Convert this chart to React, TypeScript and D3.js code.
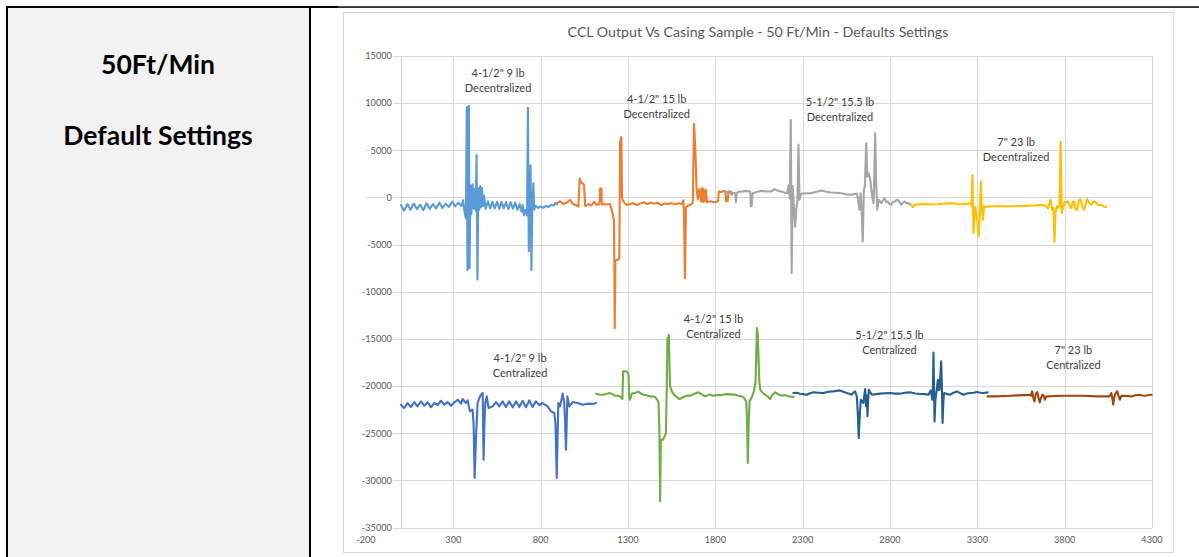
import React, { useEffect, useRef } from 'react';
import * as d3 from 'd3';

type Pt = [number, number];

// decentralized runs (upper group)
const dec9lb: Pt[] = [[0,-800],[18,-1400],[37,-700],[55,-1300],[74,-650],[92,-1250],[110,-750],[128,-1350],[147,-600],[165,-1200],[183,-700],[201,-1150],[220,-550],[238,-1100],[256,-650],[274,-1000],[293,-450],[311,-950],[329,-550],[347,-900],[356,-300],[365,-1600],[372,-2200],[377,9600],[381,-7700],[385,-1000],[389,9700],[393,-7500],[398,1300],[403,-1800],[410,1400],[416,-1200],[422,900],[428,-1400],[433,4500],[438,-8700],[443,1000],[449,-1300],[454,1200],[459,-1000],[464,1000],[470,-900],[476,200],[485,-1200],[498,-400],[511,-1150],[524,-450],[537,-1150],[550,-450],[563,-1200],[576,-450],[589,-1150],[602,-500],[615,-1250],[628,-500],[641,-1200],[654,-550],[667,-1300],[680,-700],[690,-1500],[697,-800],[704,-1900],[712,-1300],[722,-1900],[727,9500],[732,-5700],[737,-900],[742,3400],[747,-7700],[752,-1200],[758,1500],[763,-1300],[770,-900],[785,-1100],[800,-950],[815,-1100],[830,-900],[845,-1000],[860,-800],[875,-850],[885,-600],[893,-700]];

const dec15lb: Pt[] = [[892,-600],[911,-400],[930,-700],[949,-550],[968,-250],[985,-700],[1000,-800],[1016,-950],[1023,2000],[1030,1600],[1040,1500],[1048,1350],[1055,-900],[1075,-700],[1090,-850],[1105,-450],[1120,-800],[1135,-700],[1138,-300],[1140,950],[1148,950],[1150,-750],[1165,-700],[1180,-750],[1197,-700],[1203,-1100],[1212,-1700],[1220,-2500],[1224,-13850],[1228,-6700],[1240,-6600],[1250,-6500],[1255,5900],[1262,6400],[1266,-100],[1275,-450],[1292,-800],[1310,-700],[1330,-600],[1350,-800],[1370,-650],[1390,-500],[1410,-700],[1430,-550],[1450,-650],[1470,-550],[1490,-800],[1510,-650],[1530,-700],[1550,-600],[1570,-750],[1590,-600],[1610,-700],[1617,-300],[1621,-2000],[1626,-8550],[1632,-1000],[1645,-850],[1660,-750],[1671,-550],[1678,7800],[1686,5000],[1692,1100],[1700,-200],[1708,900],[1713,600],[1718,-400],[1724,1000],[1728,-500],[1734,900],[1740,-400],[1746,800],[1752,-500],[1760,-450],[1775,-400],[1790,-500],[1805,-450],[1815,-400],[1820,650],[1830,550],[1845,700],[1857,650],[1862,-400],[1870,-400],[1876,650],[1885,600],[1895,300]];

const dec155lb: Pt[] = [[1856,500],[1870,600],[1885,630],[1900,500],[1914,450],[1918,-500],[1922,450],[1933,630],[1950,600],[1971,700],[1990,650],[2000,630],[2003,-950],[2008,-900],[2014,450],[2040,600],[2062,700],[2090,650],[2119,630],[2138,880],[2160,700],[2176,630],[2200,500],[2211,450],[2219,1300],[2226,-100],[2232,8200],[2237,-8000],[2243,1200],[2250,-1000],[2257,-3100],[2263,-1300],[2270,-300],[2276,5600],[2282,-250],[2290,400],[2320,450],[2349,450],[2380,600],[2406,730],[2435,600],[2463,520],[2490,500],[2520,450],[2550,350],[2578,280],[2600,400],[2610,380],[2616,-80],[2625,-1300],[2632,450],[2638,-1500],[2644,-4670],[2650,800],[2656,1200],[2664,5750],[2670,2200],[2678,2570],[2686,2000],[2692,980],[2700,-100],[2706,-600],[2711,3000],[2715,6800],[2720,2000],[2727,-1300],[2734,-250],[2742,-400],[2750,-600],[2760,-300],[2769,-80],[2778,-500],[2788,-430],[2798,-700],[2807,-780],[2816,-500],[2826,-430],[2836,-300],[2845,-250],[2855,-500],[2864,-780],[2874,-550],[2884,-430],[2893,-600],[2903,-600],[2912,-700],[2922,-780]];

const dec23lb: Pt[] = [[2922,-780],[2931,-1030],[2941,-800],[2970,-700],[2998,-680],[3030,-750],[3075,-710],[3110,-650],[3151,-600],[3190,-700],[3228,-710],[3250,-650],[3260,-600],[3266,-900],[3272,2390],[3278,-3785],[3283,-2000],[3288,-1000],[3295,-2000],[3302,-2700],[3308,-4140],[3314,-2000],[3320,1690],[3326,-1000],[3332,-2370],[3338,-900],[3344,-1030],[3360,-960],[3380,-960],[3420,-900],[3476,-960],[3520,-900],[3571,-890],[3620,-850],[3667,-780],[3690,-900],[3705,-1140],[3712,-700],[3720,-230],[3728,-1300],[3736,-1100],[3742,-4680],[3748,-1500],[3756,-900],[3764,-1100],[3770,-900],[3777,5900],[3783,-1670],[3790,-1100],[3800,-500],[3810,-450],[3819,-430],[3828,-900],[3838,-1140],[3846,-450],[3853,-430],[3862,-1200],[3872,-1310],[3882,-300],[3891,-180],[3900,-900],[3910,-1310],[3920,-700],[3929,-180],[3940,-600],[3952,-780],[3965,-400],[3975,-430],[3985,-650],[3994,-780],[4005,-800],[4013,-780],[4025,-950],[4038,-1030]];

// centralized runs (lower group)
const cen9lb: Pt[] = [[0,-21970],[19,-22320],[38,-21790],[57,-22220],[76,-21690],[95,-22150],[115,-21620],[134,-22080],[153,-21720],[172,-22220],[191,-21790],[210,-22000],[229,-21550],[248,-21970],[267,-21690],[287,-22080],[306,-21720],[325,-21440],[344,-21860],[353,-21370],[372,-21790],[382,-21510],[395,-22680],[410,-22500],[416,-24000],[422,-29740],[430,-25330],[439,-21790],[449,-21260],[458,-20910],[468,-20730],[473,-27800],[478,-24000],[483,-21790],[491,-21090],[502,-22320],[525,-22150],[544,-21690],[563,-22150],[582,-21620],[601,-22220],[620,-21620],[640,-22250],[659,-21620],[678,-22220],[697,-21550],[716,-22250],[735,-21510],[754,-22220],[773,-21620],[792,-22000],[811,-21790],[840,-22150],[859,-22680],[878,-22850],[885,-24000],[892,-29740],[901,-21790],[911,-22150],[926,-20800],[935,-21790],[940,-24000],[945,-26740],[953,-21090],[964,-22150],[983,-21690],[1012,-21790],[1040,-21970],[1069,-21860],[1098,-21900],[1117,-21790]];

const cen15lb: Pt[] = [[1117,-20800],[1140,-20900],[1159,-20910],[1180,-20800],[1197,-20730],[1215,-20900],[1226,-21020],[1240,-21000],[1255,-21090],[1268,-21370],[1272,-18440],[1285,-18400],[1297,-18550],[1303,-18800],[1307,-21260],[1312,-21440],[1322,-20800],[1340,-20700],[1360,-20590],[1375,-20800],[1389,-20910],[1410,-21000],[1427,-21090],[1445,-21100],[1456,-21160],[1470,-21500],[1475,-21790],[1480,-25000],[1484,-32210],[1488,-25700],[1500,-25680],[1510,-25300],[1517,-24970],[1522,-20000],[1526,-14900],[1530,-15200],[1534,-14550],[1538,-18000],[1541,-20030],[1551,-20560],[1563,-20900],[1575,-21090],[1595,-21370],[1618,-21160],[1640,-21000],[1656,-21020],[1680,-20800],[1703,-20660],[1720,-20850],[1742,-21090],[1765,-20900],[1789,-21020],[1812,-20950],[1837,-20950],[1860,-20850],[1885,-20880],[1910,-20900],[1933,-21020],[1961,-21160],[1977,-21620],[1982,-24000],[1986,-28150],[1991,-24000],[1996,-21620],[2009,-21160],[2019,-20660],[2030,-19670],[2034,-17000],[2038,-13850],[2043,-14500],[2047,-16850],[2052,-19500],[2057,-20380],[2070,-20700],[2085,-20910],[2100,-21100],[2114,-21370],[2128,-20900],[2143,-20660],[2162,-20900],[2181,-21020],[2200,-20950],[2219,-21090],[2235,-21100],[2248,-21160]];

const cen155lb: Pt[] = [[2247,-20730],[2266,-20700],[2285,-20800],[2304,-20850],[2323,-20910],[2342,-20750],[2361,-20660],[2390,-20700],[2419,-20730],[2447,-20600],[2476,-20560],[2495,-20500],[2514,-20450],[2533,-20600],[2552,-20730],[2567,-20800],[2581,-20910],[2590,-20700],[2600,-20560],[2610,-21090],[2616,-23000],[2621,-25500],[2627,-23000],[2633,-21440],[2640,-21600],[2648,-21790],[2654,-20800],[2658,-20310],[2663,-22150],[2667,-21000],[2671,-23200],[2675,-21500],[2679,-20380],[2688,-20700],[2696,-20910],[2720,-20850],[2743,-20800],[2770,-20750],[2801,-20730],[2830,-20800],[2858,-20800],[2885,-20700],[2915,-20660],[2945,-20780],[2973,-20840],[3000,-20850],[3020,-20910],[3034,-20450],[3042,-21440],[3046,-20000],[3049,-16430],[3052,-20000],[3055,-23740],[3060,-21500],[3065,-20730],[3070,-20000],[3074,-19320],[3079,-20400],[3084,-20380],[3088,-19000],[3093,-17380],[3097,-20000],[3101,-23910],[3106,-21500],[3110,-20730],[3128,-20850],[3145,-20910],[3164,-20700],[3183,-20560],[3202,-20750],[3221,-20910],[3240,-20780],[3259,-20730],[3278,-20700],[3298,-20630],[3317,-20700],[3336,-20730],[3359,-20660]];

const cen23lb: Pt[] = [[3359,-21090],[3386,-21090],[3413,-21090],[3450,-21050],[3489,-21020],[3530,-20980],[3566,-20950],[3590,-20950],[3600,-20910],[3607,-21000],[3614,-20560],[3620,-21200],[3627,-21620],[3635,-20800],[3643,-20630],[3650,-21200],[3658,-21720],[3665,-21200],[3673,-20910],[3680,-21000],[3687,-21440],[3694,-21100],[3700,-21090],[3750,-21050],[3796,-21020],[3840,-21020],[3891,-21020],[3940,-21050],[3987,-21090],[4020,-21090],[4054,-21090],[4060,-21000],[4067,-20730],[4072,-21200],[4078,-21970],[4083,-21300],[4088,-20910],[4095,-20650],[4101,-20560],[4108,-21000],[4116,-21440],[4123,-21100],[4130,-21020],[4155,-21050],[4178,-21090],[4200,-21000],[4226,-20910],[4245,-21000],[4264,-21020],[4280,-20950],[4298,-20910]];

const xTicks = [-200, 300, 800, 1300, 1800, 2300, 2800, 3300, 3800, 4300];
const yTicks = [15000, 10000, 5000, 0, -5000, -10000, -15000, -20000, -25000, -30000, -35000];

const series = [
  { data: dec9lb, color: '#5B9BD5' },
  { data: dec15lb, color: '#ED7D31' },
  { data: dec155lb, color: '#A5A5A5' },
  { data: dec23lb, color: '#FFC000' },
  { data: cen9lb, color: '#4472C4' },
  { data: cen15lb, color: '#70AD47' },
  { data: cen155lb, color: '#255E91' },
  { data: cen23lb, color: '#9E480E' },
];

// text boxes, anchored at data coords (middle of the two lines)
const notes = [
  { lines: ['4-1/2" 9 lb', 'Decentralized'], x: 556, y: 12370 },
  { lines: ['4-1/2" 15 lb', 'Decentralized'], x: 1464, y: 9630 },
  { lines: ['5-1/2" 15.5 lb', 'Decentralized'], x: 2514, y: 9360 },
  { lines: ['7" 23 lb', 'Decentralized'], x: 3522, y: 5100 },
  { lines: ['4-1/2" 9 lb', 'Centralized'], x: 682, y: -17790 },
  { lines: ['4-1/2" 15 lb', 'Centralized'], x: 1789, y: -13690 },
  { lines: ['5-1/2" 15.5 lb', 'Centralized'], x: 2797, y: -15390 },
  { lines: ['7" 23 lb', 'Centralized'], x: 3850, y: -16940 },
];

const W = 1199, H = 557;
const FONT = 'Lato, "Open Sans", sans-serif';

export default function App() {
  const ref = useRef<SVGSVGElement>(null);

  useEffect(() => {
    const svg = d3.select(ref.current);
    svg.selectAll('*').remove();

    // left table cell
    svg.append('rect').attr('x', 8).attr('y', 8).attr('width', 301).attr('height', H - 8).attr('fill', '#f2f2f2');
    svg.append('rect').attr('x', 6).attr('y', 6).attr('width', 332).attr('height', 2).attr('fill', '#000');
    svg.append('rect').attr('x', 338).attr('y', 6.3).attr('width', W - 338).attr('height', 1.5).attr('fill', '#000');
    svg.append('rect').attr('x', 6).attr('y', 6).attr('width', 2).attr('height', H).attr('fill', '#000');
    svg.append('rect').attr('x', 309).attr('y', 6).attr('width', 2).attr('height', H).attr('fill', '#000');

    svg.append('text').attr('x', 158).attr('y', 74).attr('text-anchor', 'middle')
      .attr('font-family', FONT).attr('font-weight', 700).attr('font-size', 26.5).attr('fill', '#000')
      .text('50Ft/Min');
    svg.append('text').attr('x', 158).attr('y', 145).attr('text-anchor', 'middle')
      .attr('font-family', FONT).attr('font-weight', 700).attr('font-size', 26.5).attr('fill', '#000')
      .text('Default Settings');

    // chart frame
    svg.append('rect').attr('x', 343.5).attr('y', 12.5).attr('width', 830).attr('height', 540)
      .attr('fill', '#fff').attr('stroke', '#d9d9d9');

    svg.append('text').attr('x', 758).attr('y', 37).attr('text-anchor', 'middle')
      .attr('font-family', FONT).attr('font-size', 14.2).attr('fill', '#595959')
      .text('CCL Output Vs Casing Sample - 50 Ft/Min - Defaults Settings');

    const x = d3.scaleLinear().domain([-200, 4300]).range([366, 1152]);
    const y = d3.scaleLinear().domain([-35000, 15000]).range([527.6, 56]);

    const grid = svg.append('g').attr('stroke', '#d9d9d9').attr('stroke-width', 1);
    grid.selectAll('line.h').data(yTicks).join('line').attr('class', 'h')
      .attr('x1', x(-200)).attr('x2', x(4300))
      .attr('y1', d => Math.round(y(d)) + 0.5).attr('y2', d => Math.round(y(d)) + 0.5);
    grid.selectAll('line.v').data(xTicks.filter(d => d > -200)).join('line').attr('class', 'v')
      .attr('x1', d => Math.round(x(d)) + 0.5).attr('x2', d => Math.round(x(d)) + 0.5)
      .attr('y1', y(15000)).attr('y2', y(-35000));
    // vertical axis crosses at 0
    svg.append('line').attr('x1', Math.round(x(0)) + 0.5).attr('x2', Math.round(x(0)) + 0.5)
      .attr('y1', y(15000)).attr('y2', y(-35000)).attr('stroke', '#d0d0d0');

    svg.append('g').selectAll('text').data(yTicks).join('text')
      .attr('x', x(0) - 9).attr('y', d => y(d)).attr('dy', '0.35em').attr('text-anchor', 'end')
      .attr('font-family', FONT).attr('font-size', 9.2).attr('fill', '#595959')
      .attr('stroke', '#fff').attr('stroke-width', 3).attr('paint-order', 'stroke')
      .text(d => String(d));

    svg.append('g').selectAll('text').data(xTicks).join('text')
      .attr('x', d => x(d)).attr('y', 543).attr('text-anchor', 'middle')
      .attr('font-family', FONT).attr('font-size', 9.2).attr('fill', '#595959')
      .text(d => String(d));

    const line = d3.line<Pt>().x(d => x(d[0])).y(d => y(d[1]));
    svg.append('g').selectAll('path').data(series).join('path')
      .attr('d', s => line(s.data))
      .attr('fill', 'none').attr('stroke', s => s.color)
      .attr('stroke-width', 2.1).attr('stroke-linejoin', 'round').attr('stroke-linecap', 'round');

    const nt = svg.append('g').selectAll('text').data(notes).join('text')
      .attr('text-anchor', 'middle').attr('font-family', FONT).attr('font-size', 11).attr('fill', '#404040');
    nt.selectAll('tspan').data(n => n.lines.map((t, i) => ({ t, i, n }))).join('tspan')
      .attr('x', d => x(d.n.x))
      .attr('y', d => y(d.n.y) + (d.i === 0 ? -3.5 : 11.5))
      .text(d => d.t);
  }, []);

  return (
    <svg ref={ref} width={W} height={H}
      style={{ position: 'absolute', left: 0, top: 0, background: '#fff' }} />
  );
}
